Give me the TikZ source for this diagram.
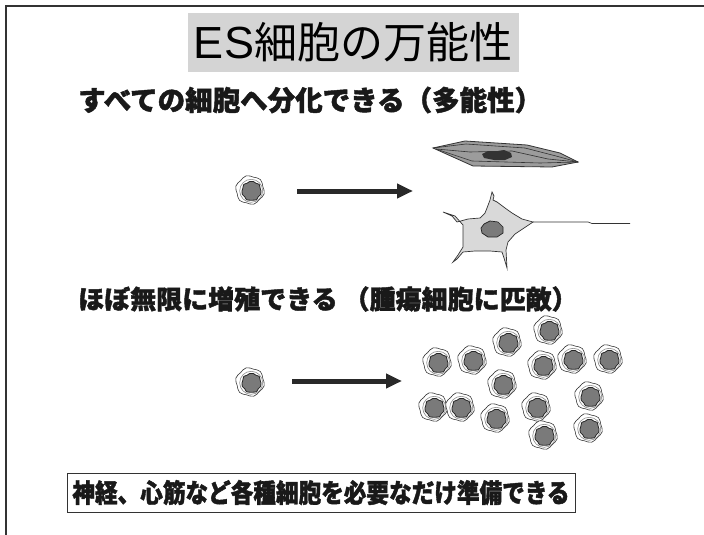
\documentclass[tikz,border=0pt]{standalone}
\usepackage{fontspec}
\usepackage{tikz}
\usetikzlibrary{arrows.meta}
\newfontfamily\jpfont[BoldFeatures={FakeBold=1.6}]{Noto Sans CJK JP}
\newfontfamily\latinfont{Liberation Sans}
\definecolor{slidegray}{HTML}{D4D4D4}
\definecolor{inkgray}{HTML}{333333}
\definecolor{nucgray}{HTML}{7A7A7A}
\definecolor{fibgray}{HTML}{9C9C9C}
\definecolor{neugray}{HTML}{D9D9D9}

\begin{document}
\begin{tikzpicture}[x=1pt,y=-1pt,
  fatarrow/.style={line width=5,-{Triangle[length=16,width=14]},inkgray!80!black},
  heading/.style={anchor=west,inner sep=0,font=\jpfont\bfseries\fontsize{27.5}{27.5}\selectfont,text=black!90},
  escell/.pic={
    \filldraw[fill=white,draw=inkgray,line width=0.6]
      plot[smooth cycle,domain=0:345,samples=24] (\x:{14+0.7*sin(6*\x)});
    \draw[black!45,line width=0.6] (1.2,0.8) circle[radius=11.5];
    \filldraw[fill=nucgray,draw=black!85,line width=0.8,shift={(1.5,1)}]
      plot[smooth cycle,domain=0:340,samples=18] (\x:{9.5+0.6*sin(7*\x)});
  }]
\useasboundingbox (0,0) rectangle (704,535);

% frame of the slide
\draw[line width=2,inkgray] (6,535) -- (6,6) -- (704,6);

% title
\node[fill=slidegray,minimum width=331,minimum height=59,inner sep=0,
  font=\jpfont\fontsize{43}{43}\selectfont] (title) at (353,42.5)
  {{\latinfont\fontsize{45}{45}\selectfont ES}細胞の万能性};

\node[heading] (multi) at (78,100) {すべての細胞へ分化できる（多能性）};
\node[heading,font=\jpfont\bfseries\fontsize{26}{26}\selectfont] (growth) at (78,299)
  {ほぼ無限に増殖できる （腫瘍細胞に匹敵）};

% differentiation
\pic at (250,190) {escell};
\coordinate (d1) at (297,191);
\coordinate (d2) at (413,191);
\draw[fatarrow] (d1) -- (d2);

% muscle-like spindle cell
\filldraw[fill=fibgray,draw=inkgray,line width=0.8]
  (433,148) -- (465,141) -- (527,145) -- (560,153) -- (578,162)
  -- (552,167) -- (473,166) -- cycle;
\draw[inkgray,line width=0.6] (433,148) -- (466,144) -- (525,148) -- (556,156) -- (578,162);
\draw[inkgray,line width=0.6] (436,149) -- (470,152) -- (512,151) -- (548,159) -- (578,162);
\draw[inkgray,line width=0.6] (436,149) -- (472,161) -- (540,163) -- (578,162);
\fill[black!80] (482,154) -- (488,151) -- (498,151) -- (504,150) -- (511,153)
  -- (512,157) -- (505,160) -- (494,160) -- (484,158) -- cycle;

% nerve cell
\filldraw[fill=neugray,draw=inkgray,line width=0.7]
  (492,192) -- (494,196) -- (493,200) -- (497,202) -- (505,208) -- (512,213)
  -- (522,219) -- (533,222) -- (524,228) -- (515,234) -- (508,242) -- (506,250)
  -- (507,268) -- (504,258) -- (502,252) -- (490,251) -- (475,251) -- (463,252)
  -- (457,259) -- (453,262) -- (458,255) -- (463,247) -- (463,236) -- (463,225)
  -- (455,216) -- (443,212) -- (452,216) -- (457,222) -- (468,219) -- (480,218)
  -- (485,213) -- (487,208) -- (490,200) -- cycle;
\draw[inkgray,line width=0.7] (533,222) -- (588,222) -- (592,223.5) -- (630,223.5);
\filldraw[fill=nucgray,draw=black!85,line width=0.7]
  (484,224) -- (490,221) -- (498,222) -- (503,227) -- (503,233) -- (497,237)
  -- (488,237) -- (482,233) -- (481,228) -- cycle;

% self-renewal
\pic at (250,382) {escell};
\coordinate (g1) at (292,381);
\coordinate (g2) at (402,381);
\draw[fatarrow] (g1) -- (g2);

\foreach \cx/\cy in {437/362,472/360,507/342,548/330,542/365,572/359,608/359,
  502/384,433/407,460/407,495/418,536/407,589/396,543/435,588/428}
  \pic at (\cx,\cy) {escell};

% summary
\node[draw=inkgray,line width=1,minimum width=508,minimum height=39,inner sep=0,
  font=\jpfont\bfseries\fontsize{26}{26}\selectfont,text=black!90] (summary) at (321,492.5)
  {\scalebox{0.87}[1]{神経、心筋など各種細胞を必要なだけ準備できる}};
\end{tikzpicture}
\end{document}
